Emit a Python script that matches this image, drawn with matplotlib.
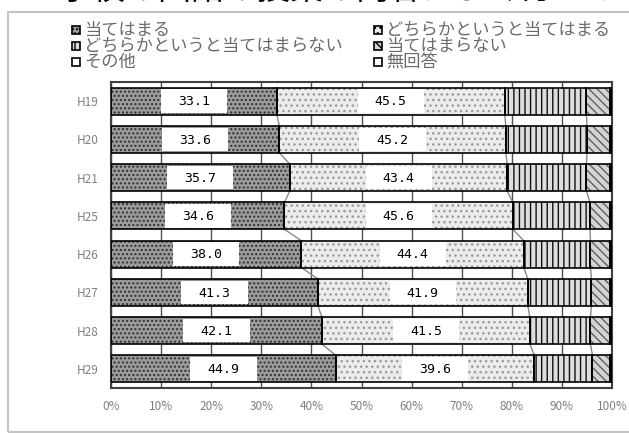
import numpy as np
import matplotlib
matplotlib.use("Agg")
from matplotlib import pyplot as plt
from matplotlib.patches import Rectangle

plt.rcParams['font.family'] = ['Noto Sans CJK JP', 'DejaVu Sans']
plt.rcParams['hatch.linewidth'] = 1.0

# data (percent)
years = ['H19', 'H20', 'H21', 'H25', 'H26', 'H27', 'H28', 'H29']
atehamaru = [33.1, 33.6, 35.7, 34.6, 38.0, 41.3, 42.1, 44.9]
dochira_ate = [45.5, 45.2, 43.4, 45.6, 44.4, 41.9, 41.5, 39.6]
dochira_not = [16.3, 16.2, 15.8, 15.4, 13.3, 12.7, 12.1, 11.6]
not_ate = [4.8, 4.7, 4.8, 4.1, 4.0, 3.8, 4.0, 3.6]
sonota = [0.1, 0.1, 0.1, 0.1, 0.1, 0.1, 0.1, 0.1]
mukaitou = [0.2, 0.2, 0.2, 0.2, 0.2, 0.2, 0.2, 0.2]

series_names = ['当てはまる', 'どちらかというと当てはまる', 'どちらかというと当てはまらない',
                '当てはまらない', 'その他', '無回答']
xticks = np.arange(0, 101, 10)
title = '４学校の国語の授業の内容はよく分かる'

# face colour, hatch, hatch colour
styles = [
    ('#9c9c9c', '....', '#303030'),
    ('#ececec', '...', '#9a9a9a'),
    ('#dedede', '|||', '#111111'),
    ('#d4d4d4', '\\\\\\\\', '#606060'),
    ('#ffffff', '', '#000000'),
    ('#ffffff', '', '#000000'),
]

W, H = 629, 433
fig = plt.figure(figsize=(W / 100, H / 100), dpi=100)


def fx(x):
    return x / W


def fy(y):
    return 1 - y / H


ax = fig.add_axes([fx(111), fy(388), 501 / W, 306 / H])

data = [atehamaru, dochira_ate, dochira_not, not_ate, sonota, mukaitou]
y = np.arange(len(years))
left = np.zeros(len(years))
lefts = []
bar_h = 0.7
for vals, (fc, hatch, hc) in zip(data, styles):
    vals = np.array(vals)
    lefts.append(left.copy())
    ax.barh(y, vals, left=left, height=bar_h, color=fc, hatch=hatch,
            edgecolor=hc, linewidth=0, zorder=2)
    ax.barh(y, vals, left=left, height=bar_h, fill=False,
            edgecolor='black', linewidth=1.2, zorder=3)
    left = left + vals

# series lines between the bars
cum = np.cumsum(np.array(data[:3]), axis=0)
for row in cum:
    for i in range(len(years) - 1):
        ax.plot([row[i], row[i + 1]], [i + bar_h / 2, i + 1 - bar_h / 2],
                color='#8a8a8a', lw=1, zorder=1.5)

# value boxes for the first two series
for k in range(2):
    for i, v in enumerate(data[k]):
        cx = lefts[k][i] + v / 2
        ax.add_patch(Rectangle((cx - 6.6, i - 0.31), 13.2, 0.62,
                               facecolor='white', edgecolor='none', zorder=4))
        ax.text(cx, i + 0.02, f'{v:.1f}', ha='center', va='center',
                family='DejaVu Sans Mono', fontsize=9.5, color='black', zorder=5)

ax.set_xlim(0, 100)
ax.set_ylim(len(years) - 0.5, -0.5)
ax.set_xticks(xticks)
ax.set_xticklabels([f'{v}%' for v in xticks])
ax.set_yticks(y)
ax.set_yticklabels(years)
ax.xaxis.grid(True, color='#505050', lw=1)
ax.set_axisbelow(True)
ax.tick_params(length=0, colors='#808080', labelsize=8.5)
ax.tick_params(axis='x', pad=9)
ax.tick_params(axis='y', pad=9)
for sp in ax.spines.values():
    sp.set_color('#404040')
    sp.set_linewidth(1.5)

# legend drawn by hand in two columns
legend_pos = [(72, 30), (374, 30), (72, 46), (374, 46), (72, 62), (374, 62)]
for name, (fc, hatch, hc), (px, py) in zip(series_names, styles, legend_pos):
    fig.add_artist(Rectangle((fx(px), fy(py + 4)), 8 / W, 8 / H,
                             transform=fig.transFigure, facecolor=fc,
                             hatch=hatch, edgecolor='black', linewidth=1.2))
    fig.text(fx(px + 12), fy(py), name, ha='left', va='center',
             fontsize=12.4, color='#6a6a6a')

# chart area frame
fig.add_artist(Rectangle((fx(8), fy(432)), 700 / W, 420 / H,
                         transform=fig.transFigure, fill=False,
                         edgecolor='#c4c4c4', linewidth=1.5))

# title, cut off at the top like the source
fig.text(fx(27), fy(7), title, ha='left', va='bottom', fontsize=23.8,
         color='black')

fig.savefig('out.png', dpi=100)
